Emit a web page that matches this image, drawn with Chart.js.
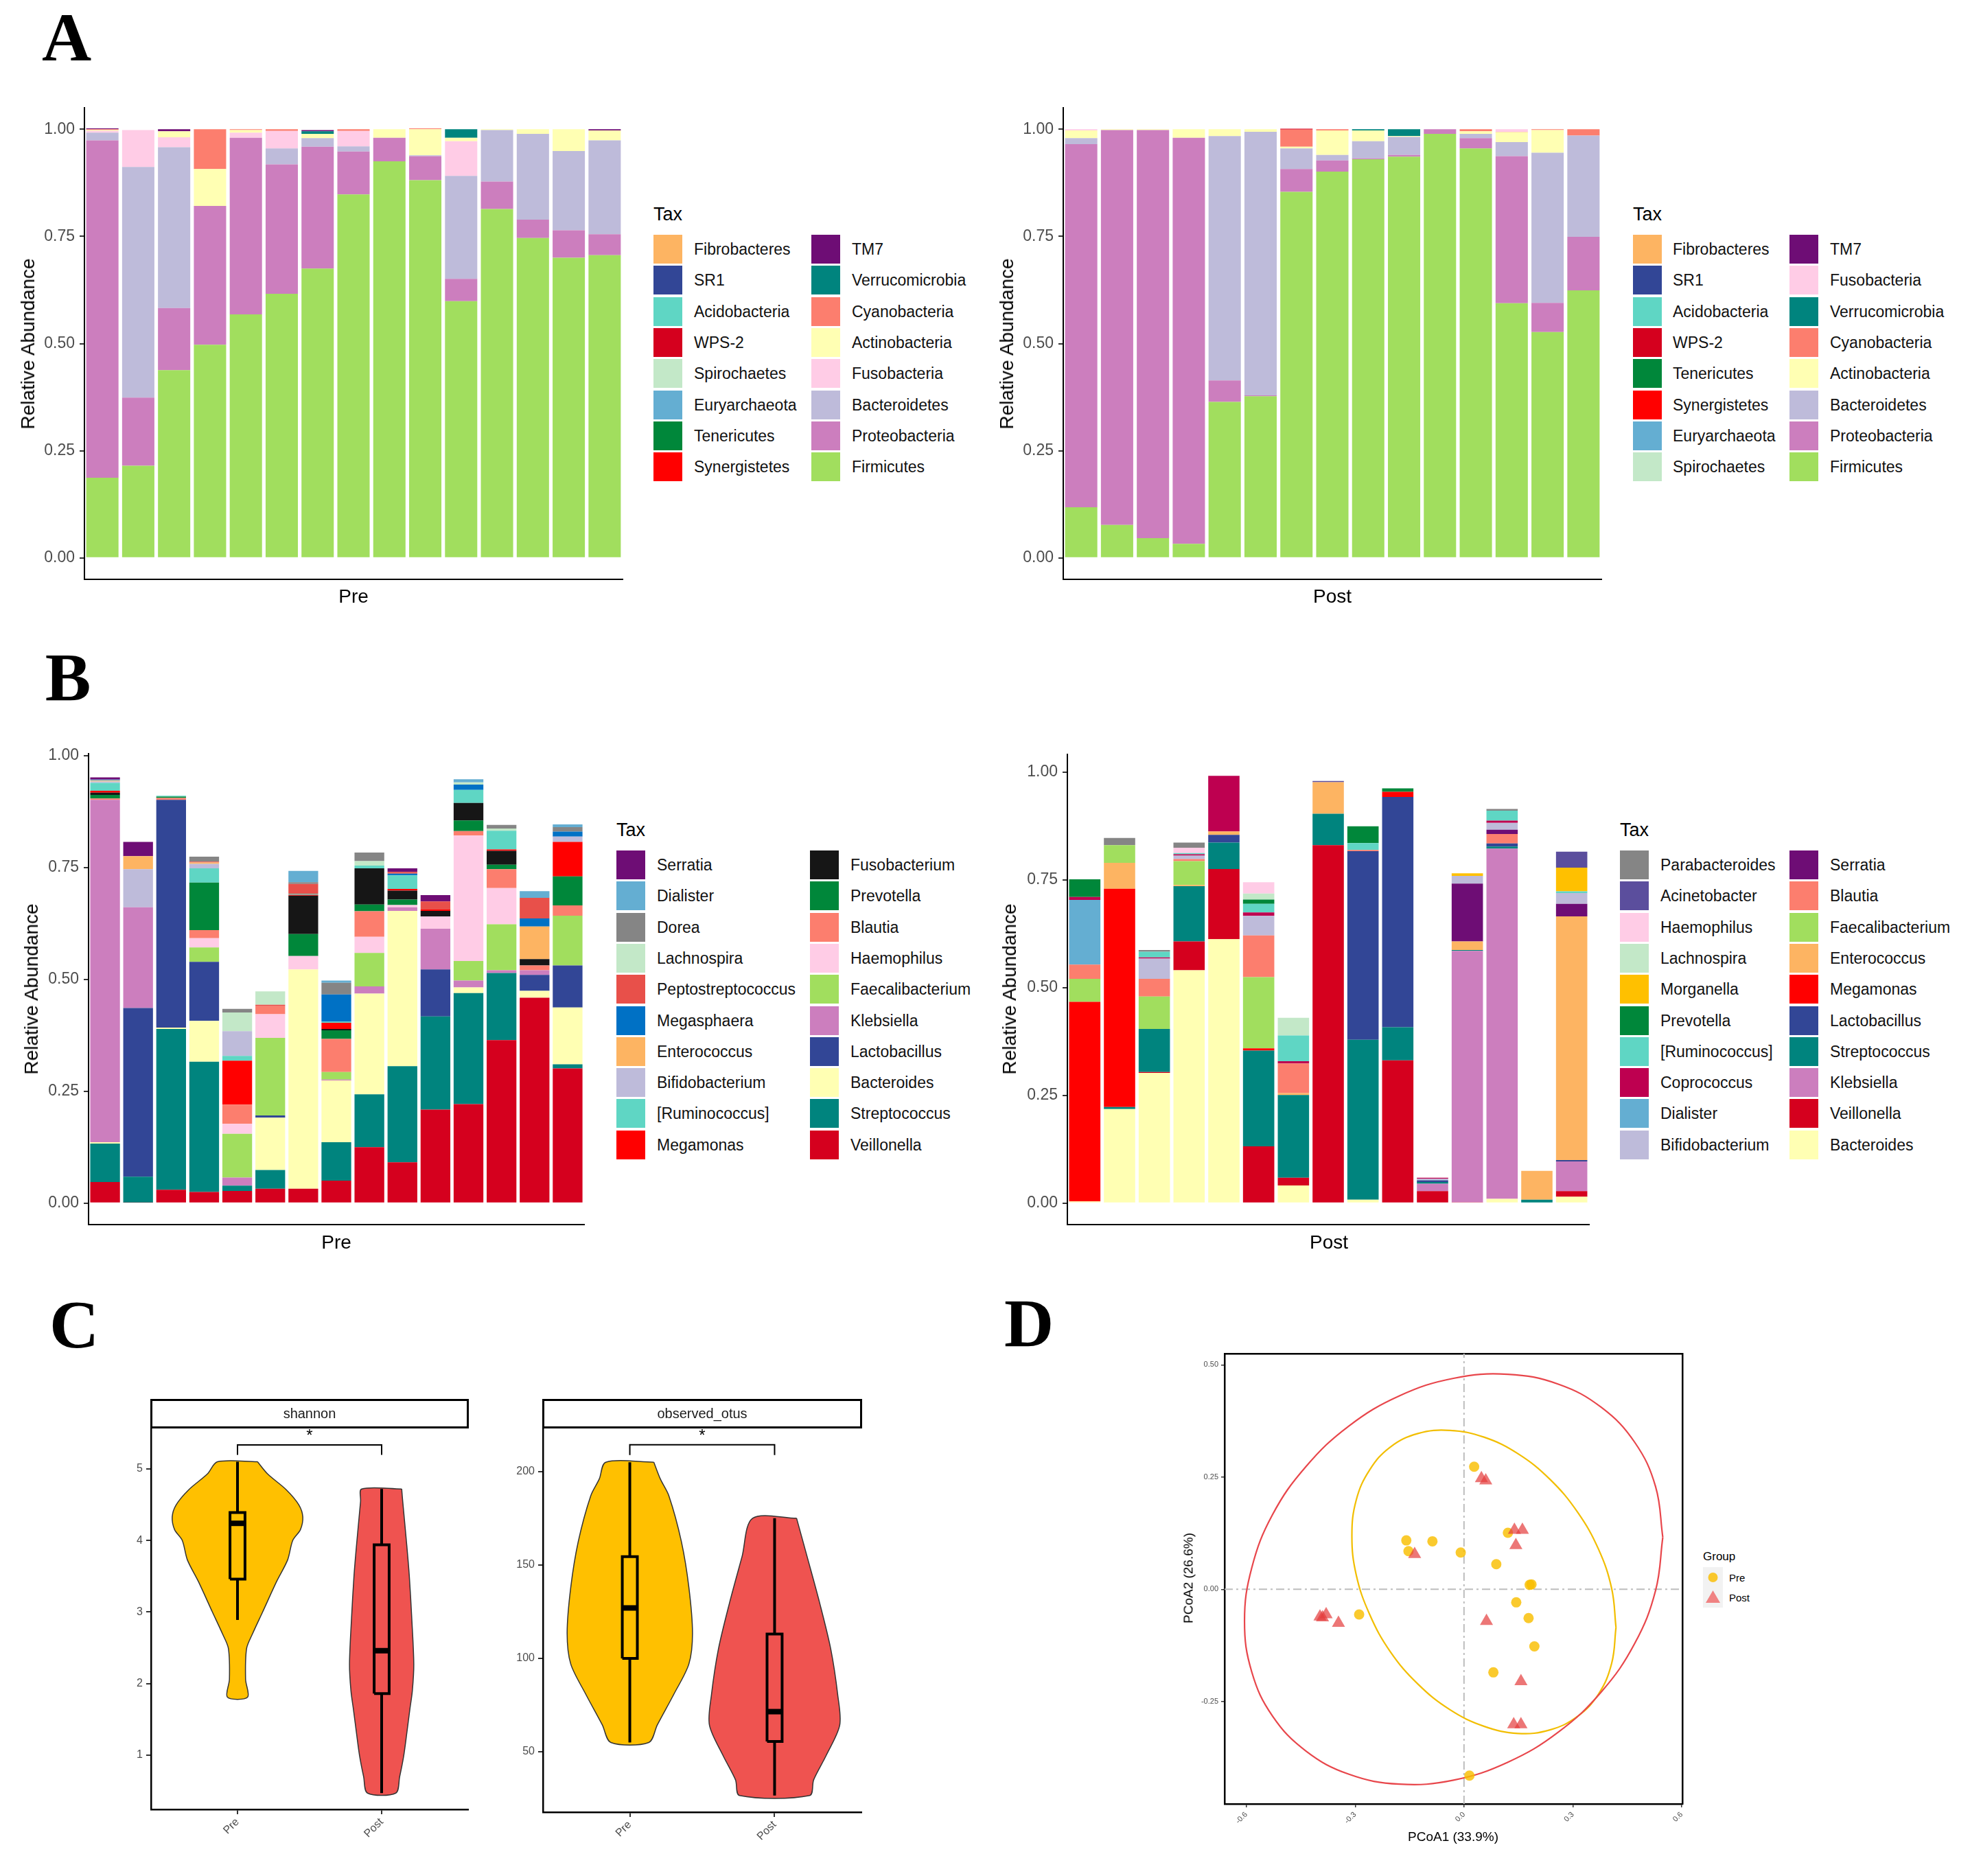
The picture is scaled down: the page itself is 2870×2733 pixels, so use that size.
<!DOCTYPE html>
<html>
<head>
<meta charset="utf-8">
<script src="https://cdn.jsdelivr.net/npm/chart.js@4.4.1/dist/chart.umd.min.js"></script>
<style>
  html, body { margin: 0; padding: 0; background: #fff; }
  #page { position: relative; width: 2870px; height: 2733px; overflow: hidden;
          font-family: "Liberation Sans", Arial, sans-serif; color: #000; }
  .abs { position: absolute; }
  .txt { position: absolute; white-space: nowrap; line-height: 1; transform: translate(-50%, -50%); }
  .ltxt { position: absolute; white-space: nowrap; line-height: 1; transform: translate(0, -50%); }
  .letter { font-family: "Liberation Serif", "DejaVu Serif", serif; font-weight: bold; font-size: 100px; }
  .strip { position: absolute; border: 3px solid #000; box-sizing: border-box; background: #fff; }
  canvas { position: absolute; }
</style>
</head>
<body>
<div id="page"></div>
<script>
// ---------- data: panel A (phylum) ----------
const SAMPLES = ['1', '2', '3', '4', '5', '6', '7', '8', '9', '10', '11', '12', '13', '14', '15']
const ABUND_TICKS = [0, 0.25, 0.5, 0.75, 1]

const A_PRE_TAXA = ['Fibrobacteres', 'SR1', 'Acidobacteria', 'WPS-2', 'Spirochaetes', 'Euryarchaeota',
  'Tenericutes', 'Synergistetes', 'TM7', 'Verrucomicrobia', 'Cyanobacteria', 'Actinobacteria',
  'Fusobacteria', 'Bacteroidetes', 'Proteobacteria', 'Firmicutes']
const A_PRE_VALUES = [
  [0, 0, 0, 0, 0, 0, 0, 0, 0, 0, 0, 0, 0, 0, 0],
  [0, 0, 0, 0, 0, 0, 0, 0, 0, 0, 0, 0, 0, 0, 0],
  [0, 0, 0, 0, 0, 0, 0, 0, 0, 0, 0, 0, 0, 0, 0],
  [0, 0, 0, 0, 0, 0, 0, 0, 0, 0, 0, 0, 0, 0, 0],
  [0, 0, 0, 0, 0, 0, 0, 0, 0, 0, 0, 0, 0, 0, 0],
  [0, 0, 0, 0, 0, 0, 0, 0, 0, 0, 0, 0, 0, 0, 0],
  [0, 0, 0, 0, 0, 0, 0, 0, 0, 0, 0, 0, 0, 0, 0],
  [0, 0, 0, 0, 0, 0, 0, 0, 0, 0, 0, 0, 0, 0, 0],
  [0.002, 0, 0.005, 0, 0, 0, 0.003, 0, 0, 0, 0, 0, 0, 0, 0.003],
  [0, 0, 0, 0, 0, 0, 0.006, 0, 0, 0, 0.020, 0, 0, 0, 0],
  [0.002, 0, 0, 0.093, 0.002, 0.004, 0, 0.004, 0, 0.002, 0, 0, 0, 0, 0],
  [0.002, 0, 0.014, 0.086, 0.006, 0, 0.010, 0, 0.020, 0.061, 0.008, 0.002, 0.011, 0.051, 0.023],
  [0.004, 0.086, 0.023, 0, 0.012, 0.041, 0, 0.036, 0, 0, 0.081, 0, 0, 0, 0],
  [0.018, 0.538, 0.375, 0, 0, 0.037, 0.020, 0.012, 0, 0.002, 0.240, 0.120, 0.200, 0.185, 0.219],
  [0.787, 0.159, 0.145, 0.324, 0.412, 0.302, 0.284, 0.100, 0.055, 0.056, 0.052, 0.064, 0.043, 0.064, 0.049],
  [0.187, 0.215, 0.438, 0.497, 0.568, 0.616, 0.675, 0.848, 0.925, 0.881, 0.599, 0.814, 0.746, 0.700, 0.706]
]

const A_POST_TAXA = ['Fibrobacteres', 'SR1', 'Acidobacteria', 'WPS-2', 'Tenericutes', 'Synergistetes',
  'Euryarchaeota', 'Spirochaetes', 'TM7', 'Fusobacteria', 'Verrucomicrobia', 'Cyanobacteria',
  'Actinobacteria', 'Bacteroidetes', 'Proteobacteria', 'Firmicutes']
const A_POST_VALUES = [
  [0, 0, 0, 0, 0, 0, 0, 0, 0, 0, 0, 0, 0, 0, 0],
  [0, 0, 0, 0, 0, 0, 0, 0, 0, 0, 0, 0, 0, 0, 0],
  [0, 0, 0, 0, 0, 0, 0, 0, 0, 0, 0, 0, 0, 0, 0],
  [0, 0, 0, 0, 0, 0, 0.002, 0, 0, 0, 0, 0, 0, 0, 0],
  [0, 0, 0, 0, 0, 0, 0, 0, 0, 0, 0, 0, 0, 0, 0],
  [0, 0, 0, 0, 0, 0, 0, 0, 0, 0, 0, 0, 0, 0, 0],
  [0, 0, 0, 0, 0, 0, 0, 0, 0, 0, 0, 0, 0, 0, 0],
  [0, 0, 0, 0, 0, 0, 0, 0, 0, 0, 0, 0, 0, 0, 0],
  [0, 0, 0, 0, 0, 0, 0, 0, 0, 0, 0, 0, 0, 0, 0],
  [0.003, 0, 0, 0, 0, 0, 0, 0, 0, 0, 0, 0, 0.006, 0, 0],
  [0, 0, 0, 0, 0, 0, 0, 0, 0.003, 0.016, 0, 0, 0, 0, 0],
  [0, 0, 0, 0, 0, 0, 0.040, 0.003, 0, 0, 0, 0.005, 0.001, 0.002, 0.015],
  [0.018, 0.002, 0.002, 0.020, 0.016, 0.006, 0.004, 0.057, 0.025, 0.002, 0, 0.006, 0.023, 0.053, 0],
  [0.014, 0, 0, 0, 0.570, 0.615, 0.048, 0.013, 0.040, 0.042, 0, 0.010, 0.033, 0.350, 0.236],
  [0.847, 0.921, 0.952, 0.947, 0.050, 0.002, 0.053, 0.026, 0.002, 0.004, 0.011, 0.024, 0.343, 0.068, 0.125],
  [0.118, 0.077, 0.046, 0.033, 0.364, 0.377, 0.854, 0.901, 0.930, 0.936, 0.989, 0.955, 0.594, 0.527, 0.624]
]

// ---------- data: panel B (genus) ----------
const B_PRE_TAXA = ['Serratia', 'Dialister', 'Dorea', 'Lachnospira', 'Peptostreptococcus', 'Megasphaera',
  'Enterococcus', 'Bifidobacterium', '[Ruminococcus]', 'Megamonas', 'Fusobacterium', 'Prevotella',
  'Blautia', 'Haemophilus', 'Faecalibacterium', 'Klebsiella', 'Lactobacillus', 'Bacteroides',
  'Streptococcus', 'Veillonella']
const B_PRE_VALUES = [
  [0.005, 0.032, 0, 0, 0, 0, 0, 0, 0, 0.008, 0.014, 0, 0, 0, 0],
  [0.002, 0, 0, 0, 0, 0, 0.025, 0.005, 0, 0, 0, 0.007, 0, 0.015, 0.006],
  [0, 0, 0, 0.011, 0.008, 0, 0.004, 0.026, 0.019, 0, 0, 0, 0.008, 0, 0.010],
  [0, 0, 0, 0, 0.042, 0.030, 0, 0, 0.010, 0, 0, 0.005, 0.005, 0, 0],
  [0, 0, 0, 0.002, 0, 0.003, 0.022, 0, 0, 0.004, 0.018, 0, 0, 0.046, 0],
  [0, 0, 0, 0, 0, 0, 0, 0.061, 0, 0.004, 0, 0.012, 0, 0.018, 0.011],
  [0.002, 0.029, 0, 0.003, 0, 0, 0, 0, 0, 0, 0, 0, 0, 0.073, 0],
  [0.003, 0.085, 0, 0.010, 0.055, 0, 0, 0, 0, 0, 0, 0, 0, 0, 0.012],
  [0.018, 0, 0.002, 0.032, 0.011, 0, 0.002, 0.002, 0.006, 0.030, 0, 0.029, 0.042, 0, 0],
  [0.004, 0, 0, 0, 0.098, 0, 0.002, 0.014, 0, 0.004, 0.003, 0, 0.003, 0, 0.077],
  [0.005, 0, 0, 0, 0, 0, 0.086, 0.003, 0.081, 0.020, 0.013, 0.039, 0.031, 0.014, 0],
  [0.008, 0, 0.003, 0.106, 0, 0, 0.049, 0.019, 0.015, 0.012, 0, 0.024, 0.010, 0, 0.065],
  [0.003, 0, 0.004, 0.018, 0.043, 0.018, 0, 0.074, 0.057, 0, 0, 0.010, 0.042, 0.011, 0.023],
  [0, 0, 0, 0.021, 0.022, 0.053, 0.030, 0, 0.036, 0.005, 0.027, 0.280, 0.081, 0, 0],
  [0, 0, 0, 0.032, 0.098, 0.173, 0, 0.017, 0.075, 0, 0, 0.044, 0.103, 0, 0.111],
  [0.765, 0.225, 0, 0, 0.018, 0, 0, 0.002, 0.016, 0.008, 0.091, 0.015, 0.006, 0.010, 0],
  [0, 0.377, 0.509, 0.132, 0, 0.005, 0, 0, 0, 0, 0.105, 0, 0, 0.036, 0.094],
  [0.003, 0, 0.003, 0.091, 0, 0.117, 0.490, 0.138, 0.225, 0.347, 0, 0.013, 0, 0.015, 0.127],
  [0.086, 0.058, 0.359, 0.291, 0.012, 0.042, 0, 0.086, 0.118, 0.215, 0.208, 0.248, 0.150, 0, 0.009],
  [0.047, 0.001, 0.030, 0.025, 0.027, 0.032, 0.032, 0.050, 0.125, 0.091, 0.209, 0.221, 0.364, 0.459, 0.301]
]

const B_POST_TAXA = ['Parabacteroides', 'Acinetobacter', 'Haemophilus', 'Lachnospira', 'Morganella',
  'Prevotella', '[Ruminococcus]', 'Coprococcus', 'Dialister', 'Bifidobacterium', 'Serratia', 'Blautia',
  'Faecalibacterium', 'Enterococcus', 'Megamonas', 'Lactobacillus', 'Streptococcus', 'Klebsiella',
  'Veillonella', 'Bacteroides']
const B_POST_VALUES = [
  [0, 0.017, 0.004, 0.012, 0, 0, 0, 0, 0, 0, 0, 0, 0.004, 0, 0],
  [0, 0, 0, 0, 0, 0, 0, 0.003, 0, 0, 0, 0, 0, 0, 0.037],
  [0, 0, 0, 0.012, 0, 0.026, 0, 0, 0, 0, 0, 0, 0, 0, 0],
  [0, 0, 0, 0, 0, 0.014, 0.041, 0, 0, 0, 0, 0, 0, 0, 0],
  [0, 0, 0, 0, 0, 0, 0, 0, 0, 0, 0, 0.006, 0, 0, 0.055],
  [0.041, 0, 0, 0, 0, 0.010, 0, 0, 0.039, 0.008, 0, 0, 0, 0, 0],
  [0, 0, 0.013, 0.003, 0, 0.020, 0.060, 0, 0.016, 0, 0, 0, 0.023, 0, 0.004],
  [0.007, 0, 0.003, 0.003, 0.129, 0.008, 0.005, 0, 0, 0, 0.002, 0, 0.005, 0, 0],
  [0.150, 0, 0, 0, 0, 0, 0, 0, 0, 0, 0, 0, 0, 0, 0],
  [0, 0, 0.047, 0.008, 0, 0.045, 0, 0, 0, 0, 0.004, 0.018, 0.016, 0, 0.025],
  [0, 0, 0, 0, 0, 0, 0, 0, 0, 0, 0, 0.134, 0.010, 0, 0.029],
  [0.033, 0, 0.041, 0.005, 0, 0.097, 0.069, 0, 0.003, 0, 0, 0, 0.022, 0, 0],
  [0.053, 0.041, 0.075, 0.055, 0, 0.165, 0, 0, 0, 0, 0, 0, 0, 0, 0],
  [0, 0.060, 0, 0.003, 0.008, 0, 0.004, 0.073, 0, 0, 0, 0.020, 0, 0.067, 0.565],
  [0.463, 0.506, 0, 0, 0, 0.005, 0, 0, 0, 0.012, 0, 0, 0, 0, 0],
  [0, 0, 0, 0, 0.018, 0, 0, 0, 0.437, 0.534, 0.004, 0, 0.007, 0, 0.003],
  [0, 0.005, 0.100, 0.128, 0.061, 0.222, 0.192, 0.073, 0.371, 0.077, 0.004, 0.002, 0.005, 0.008, 0],
  [0, 0, 0, 0, 0, 0, 0, 0, 0, 0, 0.017, 0.583, 0.812, 0, 0.069],
  [0, 0, 0.002, 0.067, 0.163, 0.132, 0.018, 0.830, 0, 0.331, 0.028, 0.002, 0, 0, 0.013],
  [0.004, 0.218, 0.302, 0.540, 0.612, 0, 0.041, 0, 0.008, 0, 0, 0, 0.010, 0, 0.015]
]

// ---------- data: panel C (alpha diversity) ----------
const GROUPS = ['Pre', 'Post']
const SHANNON_TICKS = [1, 2, 3, 4, 5]
const SHANNON_PRE_Y = [5.10, 4.93, 4.71, 4.50, 4.33, 4.15, 4.00, 3.73, 3.43, 3.00, 2.70, 2.49, 2.06, 1.81]
const SHANNON_PRE_HW = [0.139, 0.209, 0.338, 0.425, 0.453, 0.436, 0.383, 0.348, 0.272, 0.174, 0.105, 0.063, 0.056, 0.070]
const SHANNON_POST_Y = [4.72, 4.55, 3.94, 3.50, 2.91, 2.27, 1.90, 1.63, 1.30, 0.99, 0.70, 0.47]
const SHANNON_POST_HW = [0.139, 0.146, 0.174, 0.192, 0.209, 0.223, 0.213, 0.195, 0.174, 0.153, 0.125, 0.098]
// lower whisker, q1, median, q3, upper whisker
const SHANNON_BOX_PRE = [2.89, 3.46, 4.24, 4.39, 5.10]
const SHANNON_BOX_POST = [0.47, 1.86, 2.46, 3.94, 4.72]
const SHANNON_BRACKET = [5.196, 5.336]
const SHANNON_STAR = 5.53

const OTUS_TICKS = [50, 100, 150, 200]
const OTUS_PRE_Y = [205, 196, 187, 162.6, 138, 113.5, 97, 80.8, 64.4, 55]
const OTUS_PRE_HW = [0.166, 0.211, 0.270, 0.356, 0.408, 0.433, 0.408, 0.304, 0.190, 0.131]
const OTUS_POST_Y = [175, 154.4, 129.8, 105, 80.6, 64.3, 48, 35, 26.6]
const OTUS_POST_HW = [0.152, 0.225, 0.311, 0.388, 0.436, 0.450, 0.356, 0.270, 0.242]
const OTUS_BOX_PRE = [55, 100, 127, 154.5, 205]
const OTUS_BOX_POST = [26.6, 55.5, 71.5, 113, 175]
const OTUS_BRACKET = [208.8, 214.3]
const OTUS_STAR = 221.6

// ---------- data: panel D (PCoA) ----------
const PCOA_X_TICKS = [-0.6, -0.3, 0, 0.3, 0.6]
const PCOA_Y_TICKS = [-0.25, 0, 0.25, 0.5]
const PCOA_PRE_X = [0.028, -0.159, -0.087, -0.153, -0.009, 0.089, 0.121, 0.186, 0.181, 0.144, 0.178, 0.194, 0.081, -0.289, 0.015]
const PCOA_PRE_Y = [0.273, 0.109, 0.107, 0.085, 0.082, 0.056, 0.126, 0.011, 0.010, -0.029, -0.064, -0.127, -0.185, -0.056, -0.415]
const PCOA_POST_X = [0.048, 0.060, 0.139, 0.161, 0.143, -0.136, -0.397, -0.380, -0.346, 0.062, 0.157, 0.137, 0.157, -0.390]
const PCOA_POST_Y = [0.247, 0.242, 0.132, 0.132, 0.098, 0.078, -0.061, -0.056, -0.075, -0.071, -0.205, -0.301, -0.301, -0.063]
const PRE_ELLIPSE_X = [0.419, 0.407, 0.371, 0.313, 0.237, 0.149, 0.055, -0.039, -0.127, -0.203, -0.260, -0.297,
  -0.309, -0.297, -0.260, -0.203, -0.127, -0.039, 0.055, 0.149, 0.237, 0.313, 0.371, 0.407]
const PRE_ELLIPSE_Y = [-0.085, -0.165, -0.233, -0.283, -0.313, -0.321, -0.305, -0.268, -0.211, -0.139, -0.056, 0.032,
  0.119, 0.199, 0.266, 0.317, 0.347, 0.354, 0.339, 0.302, 0.245, 0.172, 0.089, 0.002]
const POST_ELLIPSE_X = [0.548, 0.528, 0.471, 0.379, 0.260, 0.121, -0.029, -0.178, -0.317, -0.436, -0.528, -0.585,
  -0.605, -0.585, -0.528, -0.436, -0.317, -0.178, -0.029, 0.121, 0.260, 0.379, 0.471, 0.528]
const POST_ELLIPSE_Y = [0.116, -0.003, -0.120, -0.228, -0.318, -0.385, -0.425, -0.434, -0.412, -0.360, -0.282, -0.184,
  -0.071, 0.048, 0.166, 0.273, 0.364, 0.431, 0.470, 0.479, 0.457, 0.405, 0.327, 0.229]

// ---------- styles ----------
const TAX_COLORS = {
  'Fibrobacteres': '#FDB462', 'SR1': '#324696', 'Acidobacteria': '#5FD6C4', 'WPS-2': '#D5001E',
  'Spirochaetes': '#C3E8C8', 'Euryarchaeota': '#64AED2', 'Tenericutes': '#00873A', 'Synergistetes': '#FF0000',
  'TM7': '#6E0D75', 'Verrucomicrobia': '#00847E', 'Cyanobacteria': '#FC7E6E', 'Actinobacteria': '#FFFFB3',
  'Fusobacteria': '#FFCCE6', 'Bacteroidetes': '#BEBBDA', 'Proteobacteria': '#CC7EBE', 'Firmicutes': '#A1DE5E',
  'Serratia': '#6E0D75', 'Dialister': '#64AED2', 'Dorea': '#858585', 'Lachnospira': '#C3E8C8',
  'Peptostreptococcus': '#E8504A', 'Megasphaera': '#0071C5', 'Enterococcus': '#FDB462',
  'Bifidobacterium': '#BEBBDA', '[Ruminococcus]': '#5FD6C4', 'Megamonas': '#FF0000',
  'Fusobacterium': '#161616', 'Prevotella': '#00873A', 'Blautia': '#FC7E6E', 'Haemophilus': '#FFCCE6',
  'Faecalibacterium': '#A1DE5E', 'Klebsiella': '#CC7EBE', 'Lactobacillus': '#324696',
  'Bacteroides': '#FFFFB3', 'Streptococcus': '#00847E', 'Veillonella': '#D5001E',
  'Parabacteroides': '#858585', 'Acinetobacter': '#5B4E9D', 'Morganella': '#FFC000', 'Coprococcus': '#BE0050'
}
const FONT = '"Liberation Sans", Arial, sans-serif'
const PRE_FILL = '#FFC000'
const POST_FILL = '#EF5350'

const page = document.getElementById('page')

function add_text(text, x, y, css, cls) {
  const d = document.createElement('div')
  d.className = cls || 'txt'
  d.textContent = text
  d.style.left = x + 'px'
  d.style.top = y + 'px'
  Object.assign(d.style, css || {})
  page.appendChild(d)
  return d
}

function add_box(x, y, w, h, css, cls) {
  const d = document.createElement('div')
  d.className = cls || 'abs'
  d.style.left = x + 'px'
  d.style.top = y + 'px'
  d.style.width = w + 'px'
  d.style.height = h + 'px'
  Object.assign(d.style, css || {})
  page.appendChild(d)
  return d
}

// canvas placed so that the chart area lands on area {l, t, r, b}
function make_canvas(area, yw, xh, pad) {
  const c = document.createElement('canvas')
  const w = area.r - area.l + yw + 2 * pad
  const h = area.b - area.t + xh + 2 * pad
  c.width = w
  c.height = h
  c.style.left = (area.l - yw - pad) + 'px'
  c.style.top = (area.t - pad) + 'px'
  c.style.width = w + 'px'
  c.style.height = h + 'px'
  page.appendChild(c)
  return c
}

function fixed_ticks(list) {
  return s => { s.ticks = list.map(v => ({ value: v })) }
}

function create_stack_chart(area, taxa, values, y_min, y_max) {
  const canvas = make_canvas(area, 90, 0, 30)
  const datasets = taxa.map((name, i) => ({
    label: name,
    data: values[i],
    backgroundColor: TAX_COLORS[name],
    borderWidth: 0,
    barPercentage: 0.9,
    categoryPercentage: 1
  })).reverse()   // last legend entry sits at the bottom of the stack

  return new Chart(canvas, {
    type: 'bar',
    data: { labels: SAMPLES, datasets: datasets },
    options: {
      responsive: false, animation: false, devicePixelRatio: 1, events: [],
      layout: { padding: 30 },
      plugins: { legend: { display: false }, tooltip: { enabled: false } },
      scales: {
        x: {
          stacked: true,
          ticks: { display: false },
          grid: { display: false },
          border: { display: true, color: '#000', width: 2 },
          afterFit: s => { s.height = 0 }
        },
        y: {
          stacked: true, min: y_min, max: y_max,
          afterBuildTicks: fixed_ticks(ABUND_TICKS),
          ticks: { font: { size: 23, family: FONT }, color: '#4D4D4D', padding: 7, callback: v => v.toFixed(2) },
          grid: { drawOnChartArea: false, drawTicks: true, tickLength: 7, color: '#333', lineWidth: 2 },
          border: { display: true, color: '#000', width: 2 },
          afterFit: s => { s.width = 90 }
        }
      }
    }
  })
}

function create_legend(sw1, tx1, sw2, tx2, title_y, top, taxa) {
  add_text('Tax', sw1, title_y, { fontSize: '27px' }, 'ltxt')
  const half = Math.ceil(taxa.length / 2)
  taxa.forEach((name, i) => {
    const col = i < half ? 0 : 1
    const row = col ? i - half : i
    const y = top + row * 45.3
    add_box(col ? sw2 : sw1, y, 42, 42, { background: TAX_COLORS[name] })
    add_text(name, col ? tx2 : tx1, y + 21, { fontSize: '23px', color: '#111' }, 'ltxt')
  })
}

// ---------- violin helpers ----------
function violin_outline(center, ys, hws) {
  const right = ys.map((y, i) => ({ x: center + hws[i], y: y }))
  const left = ys.map((y, i) => ({ x: center - hws[i], y: y })).reverse()
  return right.concat(left, [right[0]])
}

function violin_sets(center, ys, hws, box, fill) {
  const bw = 0.052
  return [
    { data: violin_outline(center, ys, hws), borderColor: '#333', borderWidth: 1.5, backgroundColor: fill,
      fill: 'shape', tension: 0.3, pointRadius: 0, order: 5 },
    { data: [{ x: center, y: box[0] }, { x: center, y: box[1] }], borderColor: '#000', borderWidth: 4,
      pointRadius: 0, order: 3 },
    { data: [{ x: center, y: box[3] }, { x: center, y: box[4] }], borderColor: '#000', borderWidth: 4,
      pointRadius: 0, order: 3 },
    { data: [{ x: center - bw, y: box[1] }, { x: center + bw, y: box[1] }, { x: center + bw, y: box[3] },
             { x: center - bw, y: box[3] }, { x: center - bw, y: box[1] }],
      borderColor: '#000', borderWidth: 4, borderJoinStyle: 'miter', pointRadius: 0, order: 2 },
    { data: [{ x: center - bw, y: box[2] }, { x: center + bw, y: box[2] }], borderColor: '#000',
      borderWidth: 8, borderCapStyle: 'butt', pointRadius: 0, order: 1 }
  ]
}

function star_plugin(x_val, y_val) {
  return {
    id: 'sig_star',
    afterDatasetsDraw(chart) {
      const ctx = chart.ctx
      const px = chart.scales.x.getPixelForValue(x_val)
      const py = chart.scales.y.getPixelForValue(y_val)
      ctx.save()
      ctx.fillStyle = '#000'
      ctx.font = '24px ' + FONT
      ctx.textAlign = 'center'
      ctx.textBaseline = 'alphabetic'
      ctx.fillText('*', px, py + 14)
      ctx.restore()
    }
  }
}

function create_violin_chart(area, y_min, y_max, y_ticks, pre, post, bracket, star_y) {
  const canvas = make_canvas(area, 55, 55, 30)
  const datasets = [
    { data: [{ x: 1, y: bracket[0] }, { x: 1, y: bracket[1] }, { x: 2, y: bracket[1] }, { x: 2, y: bracket[0] }],
      borderColor: '#000', borderWidth: 2, pointRadius: 0, order: 1 }
  ].concat(
    violin_sets(1, pre.ys, pre.hws, pre.box, PRE_FILL),
    violin_sets(2, post.ys, post.hws, post.box, POST_FILL)
  )
  return new Chart(canvas, {
    type: 'line',
    data: { datasets: datasets },
    options: {
      responsive: false, animation: false, devicePixelRatio: 1, events: [],
      layout: { padding: 30 },
      plugins: { legend: { display: false }, tooltip: { enabled: false } },
      scales: {
        x: {
          type: 'linear', min: 0.4, max: 2.6,
          afterBuildTicks: fixed_ticks([1, 2]),
          ticks: { font: { size: 16, family: FONT }, color: '#4D4D4D', minRotation: 45, maxRotation: 45,
                   padding: 2, callback: v => GROUPS[v - 1] },
          grid: { drawOnChartArea: false, drawTicks: true, tickLength: 7, color: '#333', lineWidth: 2 },
          border: { display: true, color: '#000', width: 2.5 },
          afterFit: s => { s.height = 55 }
        },
        y: {
          type: 'linear', min: y_min, max: y_max,
          afterBuildTicks: fixed_ticks(y_ticks),
          ticks: { font: { size: 16, family: FONT }, color: '#4D4D4D', padding: 5 },
          grid: { drawOnChartArea: false, drawTicks: true, tickLength: 7, color: '#333', lineWidth: 2 },
          border: { display: true, color: '#000', width: 2.5 },
          afterFit: s => { s.width = 55 }
        }
      }
    },
    plugins: [star_plugin(1.5, star_y)]
  })
}

// ---------- PCoA ----------
const D_X_MIN = -0.660, D_X_MAX = 0.602, D_Y_MIN = -0.478, D_Y_MAX = 0.525

function create_pcoa_chart(area) {
  const canvas = make_canvas(area, 60, 45, 30)
  const pts = (xs, ys) => xs.map((x, i) => ({ x: x, y: ys[i] }))
  const closed = (xs, ys) => { const p = pts(xs, ys); p.push(p[0]); return p }
  const axis_ticks = (list, digits) => ({
    afterBuildTicks: fixed_ticks(list),
    ticks: { font: { size: 11, family: FONT }, color: '#4D4D4D', padding: 4, callback: v => v.toFixed(digits) },
    grid: { drawOnChartArea: false, drawTicks: true, tickLength: 5, color: '#333', lineWidth: 1.5 },
    border: { display: true, color: '#000', width: 2.5 }
  })
  const frame = { ticks: { display: false }, grid: { display: false }, border: { display: true, color: '#000', width: 2.5 } }
  const x_axis = Object.assign({ type: 'linear', min: D_X_MIN, max: D_X_MAX, afterFit: s => { s.height = 45 } }, axis_ticks(PCOA_X_TICKS, 1))
  x_axis.ticks.minRotation = 45
  x_axis.ticks.maxRotation = 45
  const y_axis = Object.assign({ type: 'linear', min: D_Y_MIN, max: D_Y_MAX, afterFit: s => { s.width = 60 } }, axis_ticks(PCOA_Y_TICKS, 2))

  return new Chart(canvas, {
    type: 'line',
    data: {
      datasets: [
        { data: pts(PCOA_POST_X, PCOA_POST_Y), showLine: false, pointStyle: 'triangle', pointRadius: 11,
          pointBackgroundColor: 'rgba(228,60,60,0.70)', pointBorderWidth: 0, order: 1 },
        { data: pts(PCOA_PRE_X, PCOA_PRE_Y), showLine: false, pointStyle: 'circle', pointRadius: 7.5,
          pointBackgroundColor: 'rgba(249,190,0,0.82)', pointBorderWidth: 0, order: 2 },
        { data: closed(POST_ELLIPSE_X, POST_ELLIPSE_Y), borderColor: '#E8464B', borderWidth: 2.2,
          pointRadius: 0, tension: 0.4, fill: false, order: 3 },
        { data: closed(PRE_ELLIPSE_X, PRE_ELLIPSE_Y), borderColor: '#F2BE00', borderWidth: 2.2,
          pointRadius: 0, tension: 0.4, fill: false, order: 3 },
        { data: [{ x: D_X_MIN, y: 0 }, { x: D_X_MAX, y: 0 }], borderColor: '#BDBDBD', borderWidth: 2,
          borderDash: [12, 5, 3, 5], pointRadius: 0, order: 5 },
        { data: [{ x: 0, y: D_Y_MIN }, { x: 0, y: D_Y_MAX }], borderColor: '#BDBDBD', borderWidth: 2,
          borderDash: [12, 5, 3, 5], pointRadius: 0, order: 5 }
      ]
    },
    options: {
      responsive: false, animation: false, devicePixelRatio: 1, events: [],
      layout: { padding: 30 },
      plugins: { legend: { display: false }, tooltip: { enabled: false } },
      scales: {
        x: x_axis,
        y: y_axis,
        x2: Object.assign({ type: 'linear', position: 'top', min: D_X_MIN, max: D_X_MAX, afterFit: s => { s.height = 0 } }, frame),
        y2: Object.assign({ type: 'linear', position: 'right', min: D_Y_MIN, max: D_Y_MAX, afterFit: s => { s.width = 0 } }, frame)
      }
    }
  })
}

// ---------- build the figure ----------
Chart.defaults.font.family = FONT

// panel letters
add_text('A', 97, 55, {}, 'txt letter')
add_text('B', 99, 987, {}, 'txt letter')
add_text('C', 108, 1930, {}, 'txt letter')
add_text('D', 1499, 1928, {}, 'txt letter')

// panel A
create_stack_chart({ l: 123, r: 907, t: 157, b: 844 }, A_PRE_TAXA, A_PRE_VALUES, -0.05, 1.05)
create_stack_chart({ l: 1549, r: 2333, t: 157, b: 844 }, A_POST_TAXA, A_POST_VALUES, -0.05, 1.05)
add_text('Relative Abundance', 41, 501, { fontSize: '28px', transform: 'translate(-50%,-50%) rotate(-90deg)' })
add_text('Relative Abundance', 1467, 501, { fontSize: '28px', transform: 'translate(-50%,-50%) rotate(-90deg)' })
add_text('Pre', 515, 869, { fontSize: '28px' })
add_text('Post', 1941, 869, { fontSize: '28px' })
create_legend(952, 1011, 1182, 1241, 312, 342, A_PRE_TAXA)
create_legend(2379, 2437, 2607, 2666, 312, 342, A_POST_TAXA)

// panel B
create_stack_chart({ l: 129, r: 851, t: 1098, b: 1784 }, B_PRE_TAXA, B_PRE_VALUES, -0.048, 1.004)
create_stack_chart({ l: 1555, r: 2315, t: 1099, b: 1784 }, B_POST_TAXA, B_POST_VALUES, -0.0496, 1.0406)
add_text('Relative Abundance', 46, 1441, { fontSize: '28px', transform: 'translate(-50%,-50%) rotate(-90deg)' })
add_text('Relative Abundance', 1471, 1441, { fontSize: '28px', transform: 'translate(-50%,-50%) rotate(-90deg)' })
add_text('Pre', 490, 1810, { fontSize: '28px' })
add_text('Post', 1936, 1810, { fontSize: '28px' })
create_legend(898, 957, 1180, 1239, 1209, 1239, B_PRE_TAXA)
create_legend(2360, 2419, 2607, 2666, 1209, 1239, B_POST_TAXA)

// panel C
create_violin_chart({ l: 220, r: 682, t: 2079, b: 2636 }, 0.242, 5.585, SHANNON_TICKS,
  { ys: SHANNON_PRE_Y, hws: SHANNON_PRE_HW, box: SHANNON_BOX_PRE },
  { ys: SHANNON_POST_Y, hws: SHANNON_POST_HW, box: SHANNON_BOX_POST },
  SHANNON_BRACKET, SHANNON_STAR)
create_violin_chart({ l: 791, r: 1255, t: 2079, b: 2640 }, 17.7, 223.8, OTUS_TICKS,
  { ys: OTUS_PRE_Y, hws: OTUS_PRE_HW, box: OTUS_BOX_PRE },
  { ys: OTUS_POST_Y, hws: OTUS_POST_HW, box: OTUS_BOX_POST },
  OTUS_BRACKET, OTUS_STAR)
add_box(219, 2038, 464, 43, {}, 'strip')
add_box(790, 2038, 466, 43, {}, 'strip')
add_text('shannon', 451, 2059, { fontSize: '20px', color: '#1A1A1A' })
add_text('observed_otus', 1023, 2059, { fontSize: '20px', color: '#1A1A1A' })

// panel D
create_pcoa_chart({ l: 1784, r: 2451, t: 1972, b: 2628 })
add_text('PCoA1 (33.9%)', 2117, 2675, { fontSize: '19px' })
add_text('PCoA2 (26.6%)', 1731, 2299, { fontSize: '19px', transform: 'translate(-50%,-50%) rotate(-90deg)' })
add_text('Group', 2481, 2267, { fontSize: '17px' }, 'ltxt')
add_box(2481, 2283, 29, 59, { background: '#F2F2F2' })
const key = add_box(2481, 2283, 29, 59, {})
key.innerHTML = '<svg width="29" height="59"><circle cx="14.5" cy="15" r="7" fill="#F9C72C"/>' +
  '<polygon points="14.5,34 25,52 4,52" fill="#F08282"/></svg>'
add_text('Pre', 2519, 2298, { fontSize: '15px' }, 'ltxt')
add_text('Post', 2519, 2327, { fontSize: '15px' }, 'ltxt')
</script>
</body>
</html>
